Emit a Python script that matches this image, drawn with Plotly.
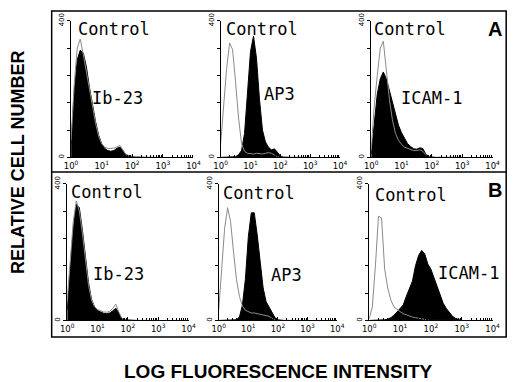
import numpy as np
import plotly.graph_objects as go

# ---------------- data ----------------
# histogram bins in log10(fluorescence) units
LOG_BINS = [0.0, 0.1, 0.2, 0.3, 0.4, 0.5, 0.6, 0.7, 0.8, 0.9,
            1.0, 1.1, 1.2, 1.3, 1.4, 1.5, 1.6, 1.7, 1.8, 1.9,
            2.0, 2.1, 2.2, 2.3, 2.4, 2.5, 2.6, 2.7, 2.8, 2.9, 3.0]

# row A
A1_IB23 = [40, 190, 285, 314, 305, 265, 205, 150, 105, 65, 40, 26, 20, 18, 20, 27, 30, 20, 8, 4, 2, 1, 1, 0, 0, 0, 0, 0, 0, 0, 0]
A1_CTRL = [50, 210, 320, 346, 300, 250, 190, 140, 100, 62, 40, 30, 26, 26, 27, 31, 35, 20, 8, 3, 1, 0, 0, 0, 0, 0, 0, 0, 0, 0, 0]
A2_AP3 = [0, 0, 0, 0, 0, 2, 8, 20, 70, 190, 310, 355, 290, 170, 80, 45, 30, 22, 25, 15, 4, 1, 0, 0, 0, 0, 0, 0, 0, 0, 0]
A2_CTRL = [40, 150, 260, 335, 315, 220, 115, 40, 18, 12, 10, 10, 12, 11, 10, 12, 14, 12, 6, 2, 0, 0, 0, 0, 0, 0, 0, 0, 0, 0, 0]
A3_ICAM = [10, 100, 185, 230, 250, 230, 195, 155, 125, 94, 72, 55, 40, 32, 25, 24, 28, 26, 10, 3, 1, 0, 0, 0, 0, 0, 0, 0, 0, 0, 0]
A3_CTRL = [20, 150, 240, 320, 340, 250, 170, 110, 70, 50, 38, 30, 26, 22, 20, 20, 22, 18, 8, 2, 0, 0, 0, 0, 0, 0, 0, 0, 0, 0, 0]
# row B
B1_IB23 = [30, 150, 270, 340, 330, 265, 180, 112, 62, 40, 29, 24, 21, 20, 22, 28, 36, 22, 4, 2, 1, 0, 0, 0, 0, 0, 0, 0, 0, 0, 0]
B1_CTRL = [60, 190, 290, 350, 320, 255, 170, 105, 60, 40, 32, 28, 25, 24, 27, 35, 48, 25, 6, 2, 0, 0, 0, 0, 0, 0, 0, 0, 0, 0, 0]
B2_AP3 = [0, 0, 0, 0, 0, 0, 2, 10, 45, 120, 245, 315, 315, 250, 170, 95, 55, 40, 25, 8, 2, 0, 0, 0, 0, 0, 0, 0, 0, 0, 0]
B2_CTRL = [30, 150, 270, 330, 290, 200, 120, 70, 42, 30, 25, 22, 22, 20, 18, 18, 15, 12, 6, 2, 0, 0, 0, 0, 0, 0, 0, 0, 0, 0, 0]
B3_ICAM = [0, 0, 0, 0, 0, 2, 4, 8, 15, 25, 35, 45, 70, 90, 115, 160, 190, 205, 195, 165, 150, 125, 100, 70, 50, 35, 22, 12, 6, 2, 0]
B3_CTRL = [5, 40, 160, 305, 300, 150, 95, 60, 40, 32, 26, 20, 16, 12, 10, 8, 6, 4, 2, 1, 0, 0, 0, 0, 0, 0, 0, 0, 0, 0, 0]

MARKERS = ["Ib-23", "AP3", "ICAM-1", "Ib-23", "AP3", "ICAM-1"]
CONTROL_LABEL = "Control"
ROW_LABELS = ["A", "B"]
X_TICK_VALUES = [1, 10, 100, 1000, 10000]
X_TICK_TEXT = ["10<sup>0</sup>", "10<sup>1</sup>", "10<sup>2</sup>", "10<sup>3</sup>", "10<sup>4</sup>"]
Y_TICK_VALUES = [0, 80, 160, 240, 320, 400]
Y_TICK_TEXT = ["0", "", "", "", "", "400"]
X_TITLE = "LOG FLUORESCENCE INTENSITY"
Y_TITLE = "RELATIVE CELL NUMBER"

# ---------------- layout helpers ----------------
W, H = 520, 382
def fx(px):
    return px / W
def fy(py):
    return 1 - py / H

xvals = 10 ** np.array(LOG_BINS)

panels = [
    # filled, control, x-domain px, y-domain px (bottom, top), control label pos, marker label pos
    (A1_IB23, A1_CTRL, (66, 192), (153, 13), (110, 22), (114, 92)),
    (A2_AP3, A2_CTRL, (220, 343), (153, 13), (263, 21), (281, 88)),
    (A3_ICAM, A3_CTRL, (375, 500), (153, 13), (415, 22), (437, 92)),
    (B1_IB23, B1_CTRL, (62, 187), (320, 180), (103, 188), (115, 272)),
    (B2_AP3, B2_CTRL, (218, 340), (320, 180), (259, 189), (288, 273)),
    (B3_ICAM, B3_CTRL, (373, 500), (320, 180), (416, 191), (475, 271)),
]

fig = go.Figure()
layout = dict(
    width=W, height=H, autosize=False,
    margin=dict(l=0, r=0, t=0, b=0, pad=0),
    paper_bgcolor="white", plot_bgcolor="white",
    showlegend=False,
)
annotations = []
mono = "DejaVu Sans Mono"

for i, (filled, ctrl, xd, yd, cpos, mpos) in enumerate(panels):
    n = i + 1
    sfx = "" if n == 1 else str(n)
    fig.add_trace(go.Scatter(
        x=xvals, y=filled, mode="lines",
        line=dict(color="black", width=1),
        fill="tozeroy", fillcolor="black",
        xaxis="x" + sfx, yaxis="y" + sfx, hoverinfo="skip"))
    fig.add_trace(go.Scatter(
        x=xvals, y=ctrl, mode="lines",
        line=dict(color="#8a8a8a", width=1),
        xaxis="x" + sfx, yaxis="y" + sfx, hoverinfo="skip"))
    layout["xaxis" + sfx] = dict(
        domain=[fx(xd[0]), fx(xd[1])], type="log", range=[0, 4],
        anchor="y" + sfx, tickmode="array",
        tickvals=X_TICK_VALUES, ticktext=X_TICK_TEXT,
        ticks="inside", ticklen=3, tickcolor="black", tickwidth=1,
        showline=True, linecolor="black", linewidth=1,
        showgrid=False, zeroline=False,
        tickfont=dict(size=8.5, family="DejaVu Sans", color="black"),
        minor=dict(ticks="inside", ticklen=2, tickcolor="black", dtick="D1", showgrid=False),
    )
    layout["yaxis" + sfx] = dict(
        domain=[fy(yd[0]), fy(yd[1])], range=[0, 400],
        anchor="x" + sfx, tickmode="array",
        tickvals=Y_TICK_VALUES, ticktext=Y_TICK_TEXT,
        ticks="outside", ticklen=3, tickcolor="black", tickwidth=1,
        tickangle=-90,
        showline=True, linecolor="black", linewidth=1,
        showgrid=False, zeroline=False,
        tickfont=dict(size=7, family="DejaVu Sans", color="black"),
    )
    annotations.append(dict(
        x=fx(cpos[0]), y=fy(cpos[1]), xref="paper", yref="paper",
        text=CONTROL_LABEL, showarrow=False, xanchor="center", yanchor="middle",
        font=dict(family=mono, size=17, color="black")))
    annotations.append(dict(
        x=fx(mpos[0]), y=fy(mpos[1]), xref="paper", yref="paper",
        text=MARKERS[i], showarrow=False, xanchor="center", yanchor="middle",
        font=dict(family=mono, size=17, color="black")))

# row letters
for lbl, (lx, ly) in zip(ROW_LABELS, [(503, 22), (503, 186)]):
    annotations.append(dict(
        x=fx(lx), y=fy(ly), xref="paper", yref="paper", text="<b>%s</b>" % lbl,
        showarrow=False, xanchor="center", yanchor="middle",
        font=dict(family="Liberation Sans", size=20, color="black")))

# axis titles
annotations.append(dict(
    x=fx(280), y=fy(372), xref="paper", yref="paper", text="<b>%s</b>" % X_TITLE,
    showarrow=False, xanchor="center", yanchor="middle",
    font=dict(family="Liberation Sans", size=19, color="black")))
annotations.append(dict(
    x=fx(12), y=fy(158), xref="paper", yref="paper", text="<b>%s</b>" % Y_TITLE,
    showarrow=False, xanchor="center", yanchor="middle", textangle=-90,
    font=dict(family="Liberation Sans", size=18, color="black")))

layout["annotations"] = annotations
layout["shapes"] = [
    dict(type="rect", xref="paper", yref="paper",
         x0=fx(46), x1=fx(514), y0=fy(337), y1=fy(3),
         line=dict(color="black", width=1.5)),
    dict(type="line", xref="paper", yref="paper",
         x0=fx(46), x1=fx(514), y0=fy(168), y1=fy(168),
         line=dict(color="black", width=1.5)),
]

fig.update_layout(**layout)
fig.write_html(
    "out.html",
    config={"displayModeBar": False, "staticPlot": True},
    post_script="document.body.style.margin='0';document.body.style.overflow='hidden';",
)
